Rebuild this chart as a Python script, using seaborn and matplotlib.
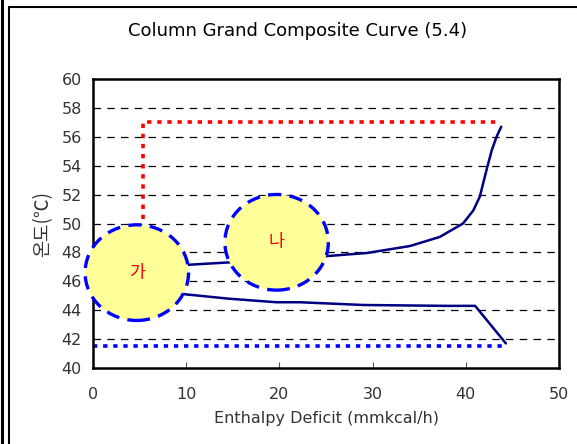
import numpy as np
import pandas as pd
import seaborn as sns
import matplotlib
matplotlib.use("Agg")
import matplotlib.pyplot as plt
from matplotlib.patches import Ellipse
from matplotlib.lines import Line2D

# Column grand composite curve, upper branch (enthalpy deficit, temperature)
upper_h = [8.0, 10.4, 14.4, 20.0, 25.2, 29.4, 34.0, 37.2, 39.7, 40.8, 41.5, 42.3, 42.8, 43.3, 43.8]
upper_t = [47.0, 47.15, 47.3, 47.5, 47.75, 47.96, 48.44, 49.07, 50.0, 50.9, 51.85, 53.9, 55.1, 56.0, 56.7]

# lower branch
lower_h = [8.0, 9.9, 14.5, 19.7, 22.2, 29.0, 38.0, 41.0, 44.3]
lower_t = [45.5, 45.1, 44.8, 44.55, 44.55, 44.36, 44.3, 44.3, 41.7]

# targets: red dotted (hot utility), blue dotted (cold utility)
red_h = [5.4, 5.4, 43.5]
red_t = [50.3, 57.0, 57.0]
blue_h = [0.0, 44.4]
blue_t = [41.5, 41.5]

# highlighted regions
circle_labels = ["가", "나"]
circle_h = [4.7, 19.7]
circle_t = [46.6, 48.7]

sns.set_theme(style="white")
plt.rcParams["font.family"] = ["DejaVu Sans", "Noto Sans CJK KR"]
kr = ["Noto Sans CJK KR", "DejaVu Sans"]

fig = plt.figure(figsize=(5.77, 4.44), dpi=100)
ax = fig.add_axes([0.1612, 0.1712, 0.8076, 0.6508])

upper = pd.DataFrame({"h": upper_h, "t": upper_t})
lower = pd.DataFrame({"h": lower_h, "t": lower_t})
sns.lineplot(data=upper, x="h", y="t", sort=False, color="#000080", lw=1.8, ax=ax)
sns.lineplot(data=lower, x="h", y="t", sort=False, color="#000080", lw=1.8, ax=ax)
ax.plot(red_h, red_t, color="#FF0000", lw=2.6, linestyle=(0, (1.2, 1.6)))
ax.plot(blue_h, blue_t, color="#0000FF", lw=2.6, linestyle=(0, (1.2, 1.6)), clip_on=False)

for lab, ch, ct in zip(circle_labels, circle_h, circle_t):
    e = Ellipse((ch, ct), width=11.1, height=6.62, facecolor="#FFFF99",
                edgecolor="#0000FF", lw=2.4, linestyle=(0, (4, 2.5)),
                clip_on=False, zorder=5)
    ax.add_patch(e)
    ax.text(ch, ct, lab, color="#FF0000", fontsize=12.5, family=kr,
            ha="center", va="center", zorder=6)

ax.set_xlim(0, 50)
ax.set_ylim(40, 60)
ax.set_xticks(range(0, 51, 10))
ax.set_yticks(range(40, 61, 2))
for yv in range(42, 60, 2):
    ax.axhline(yv, color="black", lw=0.9, linestyle=(0, (6, 5)), zorder=0)

for s in ax.spines.values():
    s.set_color("black")
    s.set_linewidth(1.8)
ax.tick_params(axis="x", direction="in", length=4, width=0.8, color="#555555",
               labelsize=11.5, labelcolor="#333333", pad=14, top=False, bottom=True)
ax.tick_params(axis="y", length=0, labelsize=11.5, labelcolor="#333333", pad=8)

ax.set_xlabel("Enthalpy Deficit (mmkcal/h)", fontsize=11.5, color="#333333", labelpad=6)
ax.set_ylabel("온도(℃)", fontsize=13.5, color="#333333", labelpad=6, family=kr)
fig.text(0.515, 0.93, "Column Grand Composite Curve (5.4)", ha="center", va="center",
         fontsize=13, color="black")

# outer frame pieces
fig.add_artist(Line2D([2 / 577, 2 / 577], [0, 1], color="black", lw=2.2))
fig.add_artist(Line2D([8.5 / 577, 8.5 / 577], [0, 1 - 7.5 / 444], color="black", lw=1.5))
fig.add_artist(Line2D([8.5 / 577, 1], [1 - 7.5 / 444, 1 - 7.5 / 444], color="black", lw=1.5))

fig.savefig("out.png", dpi=100)
